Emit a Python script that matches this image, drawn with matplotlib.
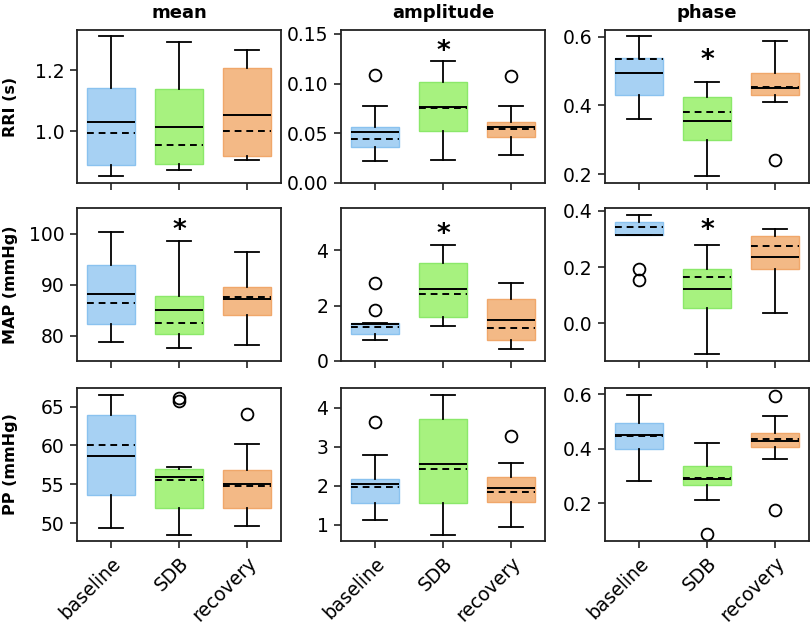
import matplotlib
matplotlib.use('Agg')
import matplotlib.pyplot as plt
import matplotlib.transforms as mtransforms

groups = ['baseline', 'SDB', 'recovery']
col_titles = ['mean', 'amplitude', 'phase']
row_labels = ['RRI (s)', 'MAP (mmHg)', 'PP (mmHg)']

# per group: whislo, q1, median, q3, whishi, mean  (baseline, SDB, recovery)
rri_mean = [[0.852, 0.889, 1.030, 1.140, 1.311, 0.995],
            [0.874, 0.892, 1.014, 1.138, 1.293, 0.953],
            [0.904, 0.918, 1.052, 1.208, 1.266, 1.000]]
rri_amp = [[0.0222, 0.0358, 0.0509, 0.0560, 0.0780, 0.0441],
           [0.0229, 0.0522, 0.0762, 0.1020, 0.1230, 0.0750],
           [0.0280, 0.0459, 0.0566, 0.0613, 0.0775, 0.0545]]
rri_phase = [[0.361, 0.429, 0.493, 0.539, 0.602, 0.534],
             [0.195, 0.301, 0.355, 0.426, 0.468, 0.382],
             [0.410, 0.429, 0.450, 0.494, 0.587, 0.454]]
map_mean = [[78.8, 82.2, 88.1, 93.8, 100.3, 86.5],
            [77.5, 80.3, 85.0, 87.75, 98.7, 82.5],
            [78.2, 84.1, 87.2, 89.65, 96.5, 87.5]]
map_amp = [[0.76, 0.99, 1.33, 1.36, 1.36, 1.22],
           [1.28, 1.60, 2.58, 3.53, 4.20, 2.41],
           [0.43, 0.77, 1.47, 2.23, 2.83, 1.18]]
map_phase = [[0.313, 0.313, 0.315, 0.360, 0.385, 0.341],
             [-0.109, 0.053, 0.121, 0.192, 0.278, 0.166],
             [0.035, 0.194, 0.236, 0.310, 0.336, 0.276]]
pp_mean = [[49.4, 53.6, 58.6, 63.9, 66.55, 60.0],
           [48.5, 51.9, 55.9, 57.0, 57.2, 55.5],
           [49.6, 52.0, 55.1, 56.85, 60.2, 54.8]]
pp_amp = [[1.12, 1.55, 2.04, 2.17, 2.78, 1.97],
          [0.75, 1.55, 2.57, 3.70, 4.32, 2.42],
          [0.94, 1.59, 1.95, 2.23, 2.58, 1.84]]
pp_phase = [[0.283, 0.399, 0.450, 0.493, 0.599, 0.448],
            [0.212, 0.265, 0.289, 0.337, 0.420, 0.294],
            [0.364, 0.405, 0.427, 0.458, 0.520, 0.437]]

# outliers per group
rri_mean_out = [[], [], []]
rri_amp_out = [[0.109], [], [0.108]]
rri_phase_out = [[], [], [0.242]]
map_mean_out = [[], [], []]
map_amp_out = [[2.80, 1.84], [], []]
map_phase_out = [[0.194, 0.155], [], []]
pp_mean_out = [[], [66.1, 65.7], [64.05]]
pp_amp_out = [[3.63], [], [3.27]]
pp_phase_out = [[], [0.085], [0.595, 0.175]]

# significance star above SDB (None = no star)
rri_stars = [None, 0.138, 0.547]
map_stars = [101.8, 4.77, 0.35]
pp_stars = [None, None, None]

panels = [[rri_mean, rri_amp, rri_phase],
          [map_mean, map_amp, map_phase],
          [pp_mean, pp_amp, pp_phase]]
outs = [[rri_mean_out, rri_amp_out, rri_phase_out],
        [map_mean_out, map_amp_out, map_phase_out],
        [pp_mean_out, pp_amp_out, pp_phase_out]]
stars = [rri_stars, map_stars, pp_stars]

ylims = [[(0.83, 1.331), (0, 0.154), (0.175, 0.619)],
         [(75.0, 105.1), (0, 5.52), (-0.134, 0.41)],
         [(47.7, 67.4), (0.59, 4.5), (0.061, 0.623)]]
yticks = [[[1.0, 1.2], [0, 0.05, 0.10, 0.15], [0.2, 0.4, 0.6]],
          [[80, 90, 100], [0, 2, 4], [0.0, 0.2, 0.4]],
          [[50, 55, 60, 65], [1, 2, 3, 4], [0.2, 0.4, 0.6]]]
yfmt = [['{:.1f}', '{:.2f}', '{:.1f}'],
        ['{:.0f}', '{:.0f}', '{:.1f}'],
        ['{:.0f}', '{:.0f}', '{:.1f}']]

faces = ['#a7d1f3', '#a7f27f', '#f3b986']
edges = ['#8ac2ef', '#8be86a', '#f0a76a']

W, H = 810, 626
fig = plt.figure(figsize=(W / 100, H / 100), dpi=100)
lefts = [77, 341, 605]
tops = [30, 208, 388]
aw, ah = 204, 153

for r in range(3):
    for c in range(3):
        ax = fig.add_axes([lefts[c] / W, (H - tops[r] - ah) / H, aw / W, ah / H])
        stats = []
        for g in range(3):
            lo, q1, med, q3, hi, mn = panels[r][c][g]
            stats.append(dict(whislo=lo, q1=q1, med=med, q3=q3, whishi=hi,
                              mean=mn, fliers=outs[r][c][g]))
        bp = ax.bxp(stats, positions=[1, 2, 3], widths=0.72, capwidths=0.36,
                    patch_artist=True, showmeans=True, meanline=True,
                    boxprops=dict(linewidth=1.0),
                    whiskerprops=dict(color='black', linewidth=1.3),
                    capprops=dict(color='black', linewidth=1.3),
                    medianprops=dict(color='black', linewidth=1.4),
                    meanprops=dict(color='black', linewidth=1.4, linestyle=(0, (3.5, 2.5))),
                    flierprops=dict(marker='o', markerfacecolor='none',
                                    markeredgecolor='black', markersize=8.5,
                                    markeredgewidth=1.3))
        for patch, fc, ec in zip(bp['boxes'], faces, edges):
            patch.set_facecolor(fc)
            patch.set_edgecolor(ec)
        s = stars[r][c]
        if s is not None:
            tr = mtransforms.offset_copy(ax.transData, fig=fig, y=-6, units='dots')
            ax.text(2, s, '*', ha='center', va='center', fontsize=19,
                    fontweight='bold', transform=tr)
        ax.set_xlim(0.5, 3.5)
        ax.set_ylim(*ylims[r][c])
        ax.set_yticks(yticks[r][c])
        ax.set_yticklabels([yfmt[r][c].format(v) for v in yticks[r][c]])
        ax.set_xticks([1, 2, 3])
        if r == 2:
            ax.set_xticklabels(groups, rotation=45, ha='right',
                               rotation_mode='anchor', fontsize=12.5)
        else:
            ax.set_xticklabels([])
        ax.tick_params(direction='out', length=5, width=1.2, labelsize=13.5,
                       pad=4, color='#222222')
        for sp in ax.spines.values():
            sp.set_linewidth(1.3)
            sp.set_color('#222222')
        if r == 0:
            ax.set_title(col_titles[c], fontsize=13, fontweight='bold', pad=8.5)
        if c == 0:
            ax.set_ylabel(row_labels[r], fontsize=11.5, fontweight='bold')
            ax.yaxis.set_label_coords(-0.29, 0.5)

fig.savefig('out.png', dpi=100)
